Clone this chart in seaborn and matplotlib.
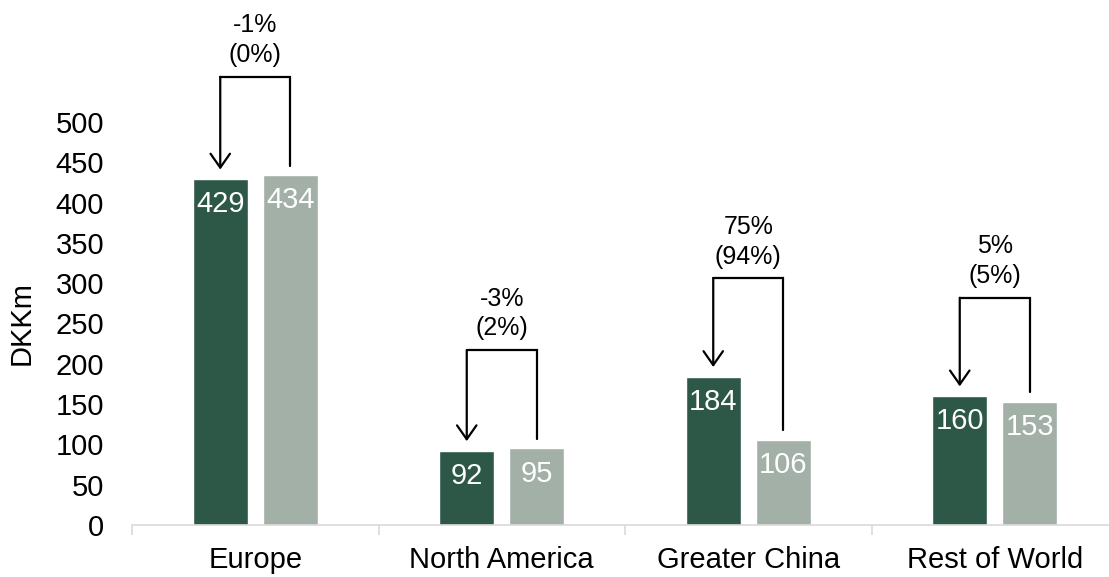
import seaborn as sns
import numpy as np
import pandas as pd
import matplotlib
matplotlib.use("Agg")
import matplotlib.pyplot as plt
from matplotlib.ticker import MultipleLocator, FixedLocator

# data
regions = ["Europe", "North America", "Greater China", "Rest of World"]
current = [429, 92, 184, 160]
prior = [434, 95, 106, 153]
growth = ["-1%", "-3%", "75%", "5%"]
organic = ["(0%)", "(2%)", "(94%)", "(5%)"]
periods = ["Current", "Prior"]

dark_green = "#2D5747"
light_grey = "#A3B0A8"

sns.set_style("white")
plt.rcParams["font.family"] = ["Liberation Sans", "DejaVu Sans"]
plt.rcParams["text.color"] = "black"
plt.rcParams["axes.labelcolor"] = "black"
plt.rcParams["xtick.color"] = "black"
plt.rcParams["ytick.color"] = "black"

df = pd.DataFrame({
    "Region": regions * 2,
    "Period": [periods[0]] * len(regions) + [periods[1]] * len(regions),
    "DKKm": current + prior,
})

fig = plt.figure(figsize=(11.09, 5.77), dpi=100)
ax = fig.add_axes([132 / 1109, 52 / 577, 986 / 1109, 403 / 577])

sns.barplot(data=df, x="Region", y="DKKm", hue="Period", order=regions,
            hue_order=periods, palette={periods[0]: dark_green, periods[1]: light_grey},
            width=0.568, gap=0.214, legend=False, saturation=1, ax=ax)

ax.set_ylim(0, 500)
ax.set_xlim(-0.5, len(regions) - 0.5)
ax.yaxis.set_major_locator(MultipleLocator(50))

for s in ["left", "top", "right"]:
    ax.spines[s].set_visible(False)
ax.spines["bottom"].set_color("#D9D9D9")
ax.spines["bottom"].set_linewidth(1.2)

ax.tick_params(axis="y", length=0, pad=20, labelsize=21, labelcolor="black")
ax.tick_params(axis="x", which="major", length=0, pad=15, labelsize=21, labelcolor="black")
ax.xaxis.set_minor_locator(FixedLocator(np.arange(-0.5, len(regions), 1.0)))
ax.tick_params(axis="x", which="minor", bottom=True, length=7, width=1.2,
               color="#D9D9D9", direction="out")

ax.set_xlabel("")
ax.set_ylabel("DKKm", fontsize=21, color="black")
ax.yaxis.set_label_coords(-0.098, 0.5)

cur_bars = ax.containers[0]
pri_bars = ax.containers[1]

# value labels inside the bars
for cont in (cur_bars, pri_bars):
    for p in cont:
        ax.annotate(f"{int(round(p.get_height()))}",
                    (p.get_x() + p.get_width() / 2, p.get_height()),
                    xytext=(0, -8), textcoords="offset points",
                    ha="center", va="top", color="white", fontsize=21)

# change brackets with percentages
for i in range(len(regions)):
    b1 = cur_bars[i]
    b2 = pri_bars[i]
    x1 = b1.get_x() + b1.get_width() / 2
    x2 = b2.get_x() + b2.get_width() / 2
    top = max(current[i], prior[i]) + 122
    ax.plot([x2, x2, x1], [prior[i] + 12, top, top], color="black", lw=1.6,
            solid_joinstyle="miter", clip_on=False)
    ax.annotate("", xy=(x1, current[i] + 12), xytext=(x1, top),
                arrowprops=dict(arrowstyle="->,head_length=1.0,head_width=0.7",
                                color="black", lw=1.6, shrinkA=0, shrinkB=0),
                annotation_clip=False)
    ax.annotate(f"{growth[i]}\n{organic[i]}", ((x1 + x2) / 2, top),
                xytext=(0, 7), textcoords="offset points", ha="center", va="bottom",
                fontsize=18, linespacing=1.3, color="black", annotation_clip=False)

fig.savefig("out.png", dpi=100)
